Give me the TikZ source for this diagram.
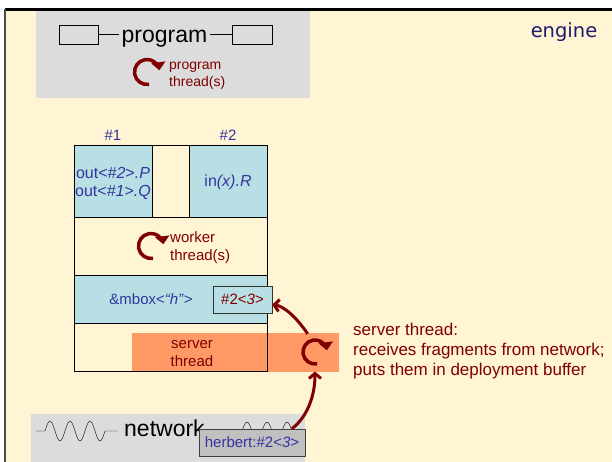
\documentclass[tikz,border=0pt]{standalone}
\usepackage{fontspec}
\setmainfont{Liberation Sans}
\newfontfamily\enginefont{DejaVu Sans}
\usetikzlibrary{arrows.meta}

\definecolor{cream}{HTML}{FFF4D4}
\definecolor{panel}{HTML}{DCDCDC}
\definecolor{cell}{HTML}{B8DFE3}
\definecolor{srvorange}{HTML}{FF9966}
\definecolor{maroon}{HTML}{800000}
\definecolor{ink}{HTML}{3434A0}
\definecolor{navy}{HTML}{1C1C6B}
\definecolor{pkt}{HTML}{C0C0C0}

\newcommand\bigfont{\fontsize{23}{26}\selectfont}
\newcommand\midfont{\fontsize{15}{18}\selectfont}
\newcommand\notefont{\fontsize{17}{20}\selectfont}

\begin{document}
\begin{tikzpicture}[x=1pt, y=-1pt,
	spin/.style={line width=3.5pt, draw=maroon, -{Triangle[length=8pt,width=14pt]}},
	hub/.style={circle, inner sep=0, minimum size=25pt, outer sep=7pt},
	feed/.style={line width=3pt, draw=maroon, -{Straight Barb[length=5pt,width=12pt]}},
	slot/.style={draw=black, fill=panel, inner sep=0, minimum height=19pt},
	box/.style={draw=black, fill=cell, inner sep=0},
	txt/.style={inner sep=0, font=\midfont}]
	\useasboundingbox (0,0) rectangle (612,461);
	\fill[white] (0,0) rectangle (612,461);

	% engine frame
	\fill[cream] (5,9) rectangle (620,470);
	\draw[line width=3pt] (5,9) -- (620,9);
	\draw[line width=2pt, draw=black!70] (5,9) -- (5,470);
	\node[anchor=base, inner sep=0, text=navy, font=\enginefont\fontsize{19.5}{22}\selectfont] (engine) at (564,37) {engine};

	% program panel
	\fill[panel] (36,11) rectangle (310,98);
	\node[slot, minimum width=39pt] (lslot) at (78.5,34.5) {};
	\node[slot, minimum width=40pt] (rslot) at (252,34.5) {};
	\node[anchor=base, inner sep=2pt, font=\bigfont] (prog) at (164.5,42) {program};
	\draw (lslot.east) -- (lslot.east -| prog.west);
	\draw (rslot.west) -- (rslot.west -| prog.east);
	\node[hub] (progspin) at (147,72) {};
	\draw[spin] ([shift={(280:12.5pt)}]progspin.center) arc[start angle=280, end angle=8, radius=12.5pt];
	\node[txt, anchor=west, align=left, text=maroon, font=\fontsize{14}{17}\selectfont] (progthr) at (169,76) {program\\thread(s)};

	% server thread band
	\fill[srvorange] (132,333) rectangle (339,372);

	% deployment buffer
	\draw (74,145) rectangle (267,371);
	\draw (74,217) -- (267,217);
	\node[box, minimum width=78pt, minimum height=72pt] (t1) at (113,181) {};
	\node[box, minimum width=78pt, minimum height=72pt] (t2) at (228,181) {};
	\node[txt, anchor=base, text=ink] (n1) at (113,140) {\#1};
	\node[txt, anchor=base, text=ink] (n2) at (228,140) {\#2};
	\node[txt, anchor=base, text=ink, align=center, font=\fontsize{16}{18}\selectfont] (outs) at (113,196) {out<\emph{\#2}>\emph{.P}\\out<\emph{\#1}>\emph{.Q}};
	\node[txt, anchor=base, text=ink, font=\fontsize{16}{18}\selectfont] (ins) at (228,186) {in\emph{(x).R}};

	\node[hub] (workspin) at (151,246) {};
	\draw[spin] ([shift={(280:12.5pt)}]workspin.center) arc[start angle=280, end angle=8, radius=12.5pt];
	\node[txt, anchor=west, align=left, text=maroon] (workthr) at (170,248) {worker\\thread(s)};

	\node[box, minimum width=193pt, minimum height=48pt] (mrow) at (170.5,299) {};
	\node[txt, anchor=base, text=ink] (mbox) at (151,304) {\&mbox<\emph{``h''}>};
	\node[box, minimum width=59pt, minimum height=27pt, draw=black!80, text=maroon, font=\midfont] (mark) at (242.5,299.5) {\#2<\emph{3}>};

	\node[txt, align=center, text=maroon] (srvthr) at (192,354) {server\\thread};
	\node[hub] (srvspin) at (315,352) {};
	\draw[spin] ([shift={(280:12pt)}]srvspin.center) arc[start angle=280, end angle=8, radius=12pt];
	\node[txt, anchor=north west, align=left, text=maroon, font=\notefont] (srvnote) at (353,323) {server thread:\\receives fragments from network;\\puts them in deployment buffer};

	% network
	\fill[panel] (31,414) rectangle (305,470);
	\draw (36,431) -- (45,431) sin (50,421) cos (55,431) sin (60,441) cos (65,431)
		sin (70,421) cos (75,431) sin (80,441) cos (85,431)
		sin (90,421) cos (95,431) sin (100,441) cos (105,431) -- (118,431);
	\node[anchor=base west, inner sep=0, font=\bigfont] (net) at (124,436) {network};
	\draw (242,431) sin (247,422) cos (252,431) sin (257,440) cos (262,431)
		sin (267,422) cos (272,431) sin (277,440) cos (282,431)
		sin (287,422) cos (292,431);
	\node[draw=black!75, fill=pkt, inner sep=0, minimum width=106pt, minimum height=27pt, text=ink, font=\midfont] (herb) at (252,442.5) {herbert:\#2<\emph{3}>};

	\draw[feed] (herb.19) .. controls (306,418) and (315,398) .. (srvspin.south);
	\draw[feed] (srvspin.112) .. controls (297,318) and (284,306) .. (mark.-10);
\end{tikzpicture}
\end{document}
